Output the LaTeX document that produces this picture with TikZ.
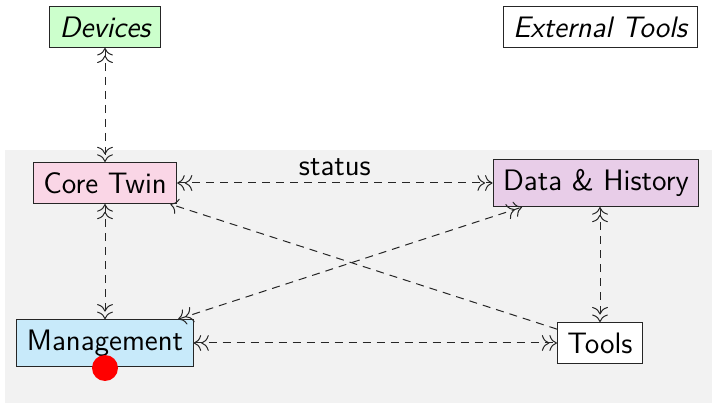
\documentclass[tikz,border=0pt]{standalone}
\usetikzlibrary{arrows.meta}
\definecolor{bggray}{RGB}{242,242,242}
\definecolor{devgreen}{RGB}{204,255,204}
\definecolor{corepink}{RGB}{250,214,230}
\definecolor{datalav}{RGB}{232,205,232}
\definecolor{mgmtblue}{RGB}{200,234,250}
\newcommand{\boxfont}{\sffamily\fontsize{14.8}{18}\selectfont}
\tikzset{
  box/.style={draw=black!85, line width=0.5pt, inner sep=5pt, font=\boxfont},
  link/.style={dash pattern=on 4pt off 3pt, line width=0.5pt, black!85, >={To[scale=1.4]}},
}
\begin{document}
\begin{tikzpicture}[x=0.5pt, y=-0.5pt]
\useasboundingbox (0,0) rectangle (712,405);
\fill[bggray] (5,150) rectangle (712,403);
\node[box, fill=devgreen, font=\boxfont\itshape] (dev) at (105,27) {Devices};
\node[box, fill=white, font=\boxfont\itshape] (ext) at (600,27) {External Tools};
\node[box, fill=corepink] (core) at (105,183) {Core Twin};
\node[box, fill=datalav] (data) at (596,183) {Data \& History};
\node[box, fill=mgmtblue] (mgmt) at (105,343) {Management};
\node[box, fill=white] (tools) at (600,343) {Tools};
\fill[red] (105,368) circle (13);
\draw[link, <<->>] (dev) -- (core);
\draw[link, <<->>] (core) -- node[above, font=\boxfont, text=black] {status} (data);
\draw[link, <<->>] (core) -- (mgmt);
\draw[link, <<->>] (data.south -| tools) -- (tools);
\draw[link, <<->>] (mgmt) -- (data);
\draw[link, <<->>] (mgmt) -- (tools);
\draw[link, ->] (tools) -- (core);
\end{tikzpicture}
\end{document}
